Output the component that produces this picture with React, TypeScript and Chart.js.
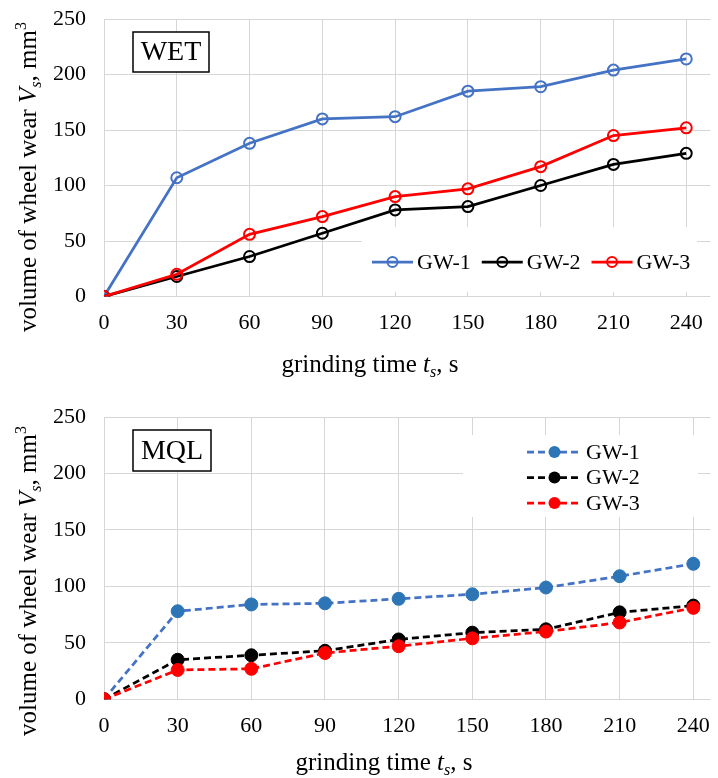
import React, { useEffect, useRef } from 'react';
import Chart from 'chart.js/auto';

// ---------- data ----------
const grindingTimes = [0, 30, 60, 90, 120, 150, 180, 210, 240];
const xTickValues = [0, 30, 60, 90, 120, 150, 180, 210, 240];
const seriesNames = ['GW-1', 'GW-2', 'GW-3'];

const wetGW1 = [0, 107, 138, 160, 162, 185, 189, 204, 214];
const wetGW2 = [0, 18, 36, 57, 78, 81, 100, 119, 129];
const wetGW3 = [0, 20, 56, 72, 90, 97, 117, 145, 152];

const mqlGW1 = [0, 78, 84, 85, 89, 93, 99, 109, 120];
const mqlGW2 = [0, 35, 39, 43, 53, 59, 62, 77, 83];
const mqlGW3 = [0, 26, 27, 41, 47, 54, 60, 68, 81];

const yTickStep = 50;

// ---------- styling ----------
const FONT = '"Liberation Serif", "Times New Roman", serif';
const LINE_COLORS = ['#4472C4', '#000000', '#FF0000'];
const MQL_FILL = ['#2E75B6', '#000000', '#FF0000'];
const GRID = '#d6d6d6';

type Seg = { t: string; italic?: boolean; sub?: boolean; sup?: boolean };

const yTitle: Seg[] = [
  { t: 'volume of wheel wear ' },
  { t: 'V', italic: true },
  { t: 's', italic: true, sub: true },
  { t: ', mm' },
  { t: '3', sup: true },
];
const xTitle: Seg[] = [
  { t: 'grinding time ' },
  { t: 't', italic: true },
  { t: 's', italic: true, sub: true },
  { t: ', s' },
];

function drawRich(ctx: CanvasRenderingContext2D, segs: Seg[], size: number, cx: number, cy: number, rotate: boolean) {
  ctx.save();
  ctx.translate(cx, cy);
  if (rotate) ctx.rotate(-Math.PI / 2);
  const fontFor = (s: Seg) => `${s.italic ? 'italic ' : ''}${s.sub || s.sup ? Math.round(size * 0.62) : size}px ${FONT}`;
  let total = 0;
  const widths = segs.map((s) => {
    ctx.font = fontFor(s);
    const w = ctx.measureText(s.t).width;
    total += w;
    return w;
  });
  let x = -total / 2;
  ctx.textBaseline = 'alphabetic';
  ctx.textAlign = 'left';
  ctx.fillStyle = '#000';
  segs.forEach((s, i) => {
    ctx.font = fontFor(s);
    let y = 0;
    if (s.sub) y += size * 0.18;
    if (s.sup) y -= size * 0.42;
    ctx.fillText(s.t, x, y);
    x += widths[i];
  });
  ctx.restore();
}

type PanelOpts = {
  label: string;
  labelBox: { x: number; y: number; w: number; h: number };
  xMax: number;
  topPad: number;
  xAxisH: number;
  yTitlePos: { x: number; y: number };
  xTitlePos: { x: number; y: number };
  legend: {
    box: { x: number; y: number; w: number; h: number };
    horizontal: boolean;
    x: number;
    y: number;
    lineLen: number;
    rowGap: number;
    dashed: boolean;
    filled: boolean;
  };
};

function makePlugin(o: PanelOpts) {
  return {
    id: 'panelDecor' + o.label,
    afterDraw(chart: any) {
      const ctx: CanvasRenderingContext2D = chart.ctx;
      // axis titles
      drawRich(ctx, yTitle, 25, o.yTitlePos.x, o.yTitlePos.y, true);
      drawRich(ctx, xTitle, 25, o.xTitlePos.x, o.xTitlePos.y, false);

      // label box
      const b = o.labelBox;
      ctx.save();
      ctx.fillStyle = '#fff';
      ctx.fillRect(b.x, b.y, b.w, b.h);
      ctx.strokeStyle = '#000';
      ctx.lineWidth = 1.5;
      ctx.strokeRect(b.x, b.y, b.w, b.h);
      ctx.fillStyle = '#000';
      ctx.font = `28px ${FONT}`;
      ctx.textAlign = 'center';
      ctx.textBaseline = 'middle';
      ctx.fillText(o.label, b.x + b.w / 2, b.y + b.h / 2 + 1);
      ctx.restore();

      // legend
      const L = o.legend;
      ctx.save();
      ctx.fillStyle = '#fff';
      ctx.fillRect(L.box.x, L.box.y, L.box.w, L.box.h);
      ctx.font = `22px ${FONT}`;
      ctx.textBaseline = 'middle';
      ctx.textAlign = 'left';
      let x = L.x;
      let y = L.y;
      chart.data.datasets.forEach((ds: any) => {
        ctx.strokeStyle = ds.borderColor;
        ctx.lineWidth = 2.75;
        ctx.setLineDash(L.dashed ? [7, 4] : []);
        ctx.beginPath();
        ctx.moveTo(x, y);
        ctx.lineTo(x + L.lineLen, y);
        ctx.stroke();
        ctx.setLineDash([]);
        ctx.beginPath();
        ctx.arc(x + L.lineLen / 2, y, L.filled ? 6 : 5, 0, Math.PI * 2);
        if (L.filled) {
          ctx.fillStyle = ds.pointBackgroundColor;
          ctx.fill();
        } else {
          ctx.lineWidth = 2;
          ctx.stroke();
        }
        ctx.fillStyle = '#000';
        ctx.fillText(ds.label, x + L.lineLen + 4, y + 1);
        const tw = ctx.measureText(ds.label).width;
        if (L.horizontal) x += L.lineLen + 4 + tw + 11;
        else y += L.rowGap;
      });
      ctx.restore();
    },
  };
}

function buildConfig(o: PanelOpts, values: number[][], dashed: boolean): any {
  const datasets = values.map((vals, i) => ({
    label: seriesNames[i],
    data: grindingTimes.map((t, j) => ({ x: t, y: vals[j] })),
    borderColor: LINE_COLORS[i],
    borderWidth: 2.75,
    borderDash: dashed ? [7, 4] : [],
    pointRadius: dashed ? 6.5 : 5.5,
    pointBorderWidth: dashed ? 1 : 2,
    pointBorderColor: dashed ? MQL_FILL[i] : LINE_COLORS[i],
    pointBackgroundColor: dashed ? MQL_FILL[i] : 'rgba(0,0,0,0)',
    tension: 0,
    fill: false,
    order: 3 - i,
  }));
  return {
    type: 'line',
    data: { datasets },
    options: {
      responsive: false,
      animation: false,
      layout: { padding: { top: o.topPad, left: 0, right: 0, bottom: 0 } },
      plugins: { legend: { display: false }, tooltip: { enabled: false }, title: { display: false } },
      scales: {
        x: {
          type: 'linear',
          min: 0,
          max: o.xMax,
          afterBuildTicks: (scale: any) => {
            scale.ticks = xTickValues.map((v) => ({ value: v }));
          },
          afterFit: (scale: any) => {
            scale.height = o.xAxisH;
            scale.paddingLeft = 0;
            scale.paddingRight = 0;
          },
          ticks: {
            color: '#000',
            padding: 14,
            autoSkip: false,
            font: { family: FONT, size: 22 },
            maxRotation: 0,
          },
          grid: { color: GRID, lineWidth: 1, drawTicks: false },
          border: { display: false },
        },
        y: {
          min: 0,
          max: 250,
          afterFit: (scale: any) => {
            scale.width = 104;
            scale.paddingTop = 0;
            scale.paddingBottom = 0;
          },
          ticks: {
            stepSize: yTickStep,
            color: '#000',
            padding: 18,
            font: { family: FONT, size: 22 },
          },
          grid: { color: GRID, lineWidth: 1, drawTicks: false },
          border: { display: false },
        },
      },
    },
    plugins: [makePlugin(o)],
  };
}

const wetOpts: PanelOpts = {
  label: 'WET',
  labelBox: { x: 133, y: 32, w: 76, h: 40 },
  xMax: 250,
  topPad: 19,
  xAxisH: 93.5,
  yTitlePos: { x: 36, y: 177 },
  xTitlePos: { x: 370, y: 372 },
  legend: {
    box: { x: 362, y: 227, w: 335, h: 65 },
    horizontal: true,
    x: 372,
    y: 262,
    lineLen: 41,
    rowGap: 0,
    dashed: false,
    filled: false,
  },
};

const mqlOpts: PanelOpts = {
  label: 'MQL',
  labelBox: { x: 133, y: 40, w: 78, h: 41 },
  xMax: 247,
  topPad: 27,
  xAxisH: 78.7,
  yTitlePos: { x: 36, y: 191 },
  xTitlePos: { x: 384, y: 380 },
  legend: {
    box: { x: 463, y: 45, w: 235, h: 82 },
    horizontal: false,
    x: 527,
    y: 62,
    lineLen: 55,
    rowGap: 25.5,
    dashed: true,
    filled: true,
  },
};

function Panel({ opts, values, dashed, height }: { opts: PanelOpts; values: number[][]; dashed: boolean; height: number }) {
  const ref = useRef<HTMLCanvasElement>(null);
  useEffect(() => {
    if (!ref.current) return;
    const chart = new Chart(ref.current, buildConfig(opts, values, dashed));
    return () => chart.destroy();
  }, []);
  return <canvas ref={ref} width={718} height={height} style={{ display: 'block', width: 718, height }} />;
}

export default function App() {
  return (
    <div style={{ position: 'absolute', left: 0, top: 0, width: 718, height: 778, background: '#fff' }}>
      <Panel opts={wetOpts} values={[wetGW1, wetGW2, wetGW3]} dashed={false} height={390} />
      <Panel opts={mqlOpts} values={[mqlGW1, mqlGW2, mqlGW3]} dashed={true} height={388} />
    </div>
  );
}
